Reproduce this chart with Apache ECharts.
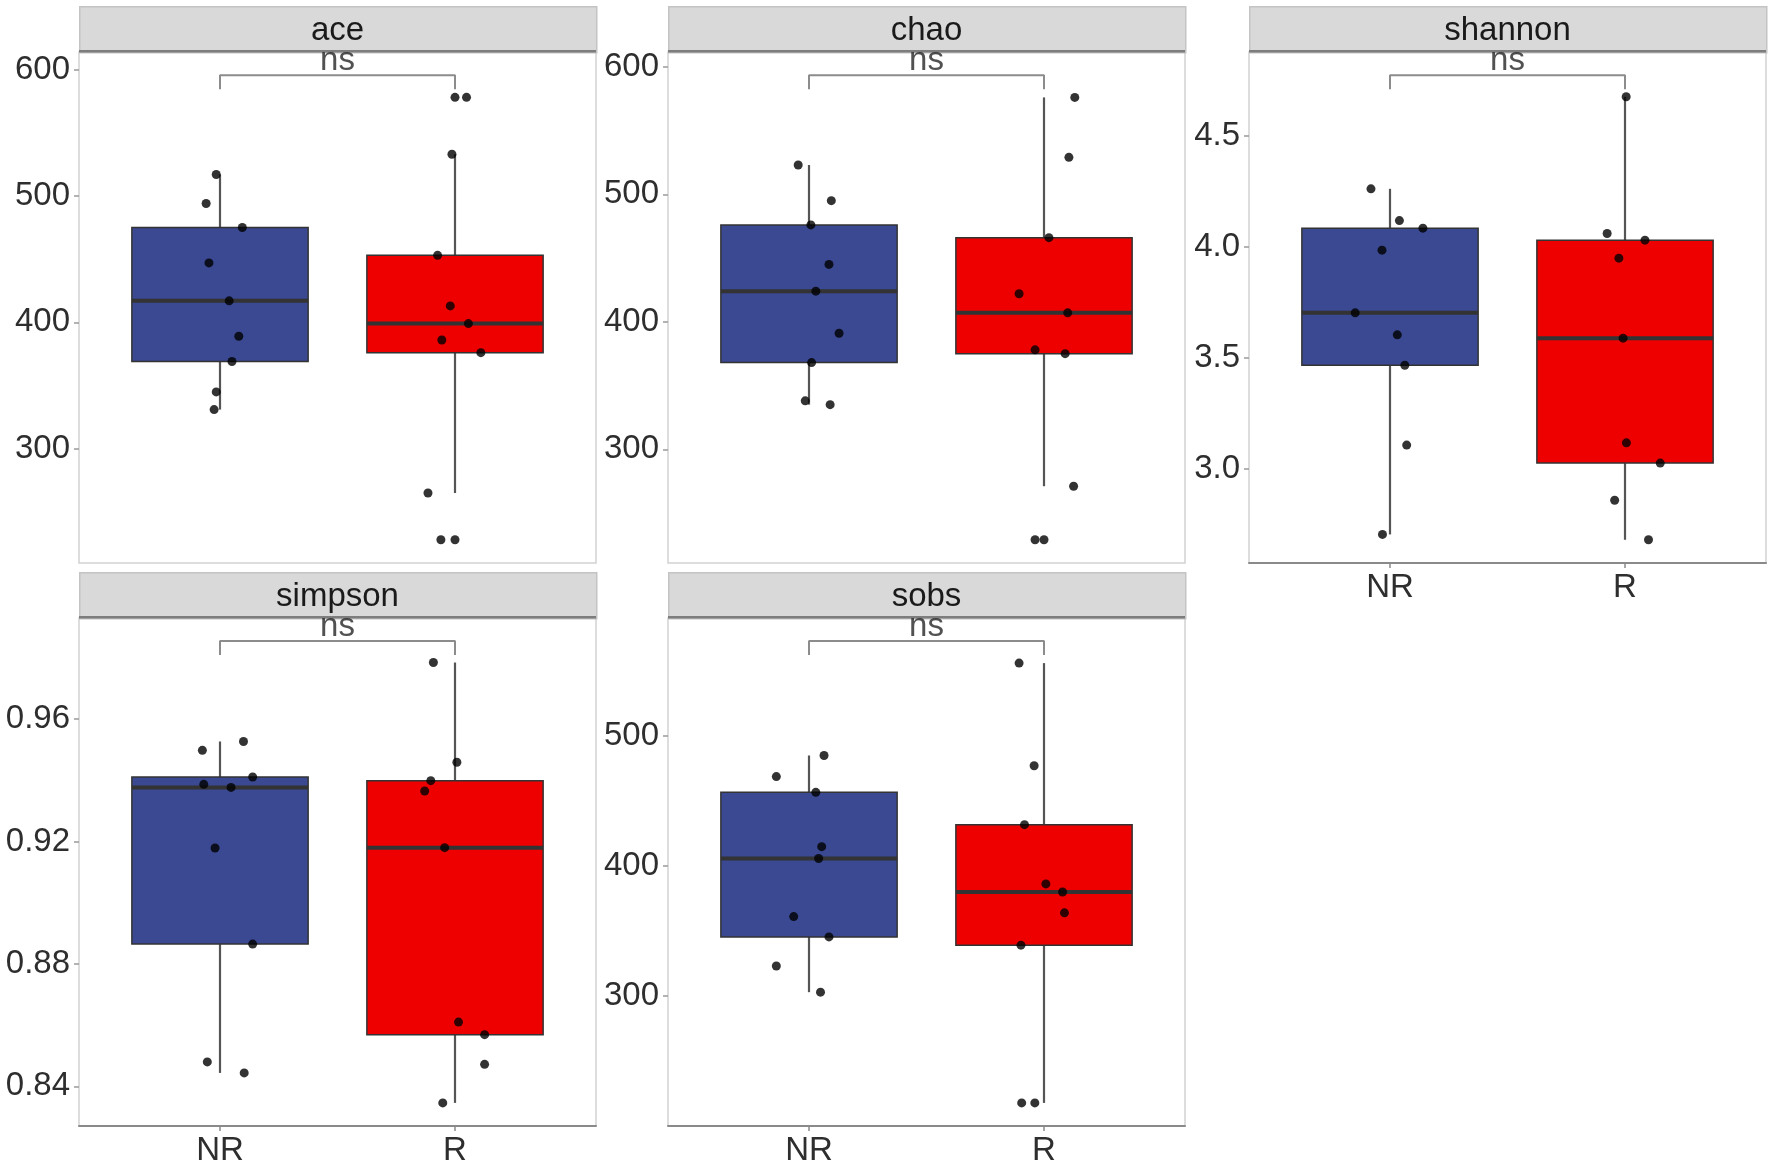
<!DOCTYPE html>
<html>
<head>
<meta charset="UTF-8">
<title>alpha diversity</title>
<script src="https://cdn.jsdelivr.net/npm/echarts@6/dist/echarts.min.js"></script>
<style>
  html, body { margin: 0; padding: 0; background: #fff; }
  #main { width: 1772px; height: 1167px; }
</style>
</head>
<body>
<div id="main"></div>
<script>
// groups and colours
var groups = ['NR', 'R'];
var groupColors = ['#3B4992', '#EE0000'];
var panelNames = ['ace', 'chao', 'shannon', 'simpson', 'sobs'];

// values, with the horizontal jitter of each dot
var aceNR = [517, 494, 475, 447, 417, 389, 369, 345, 331];
var aceNRJitter = [-0.016, -0.059, 0.095, -0.047, 0.039, 0.080, 0.051, -0.016, -0.025];
var aceR = [578, 533, 453, 413, 399, 386, 376, 265, 228];
var aceRJitter = [0.049, -0.013, -0.074, -0.020, 0.057, -0.056, 0.110, -0.115, -0.060];

var chaoNR = [523, 495, 476, 445, 424, 391, 368, 338, 335];
var chaoNRJitter = [-0.046, 0.095, 0.008, 0.085, 0.029, 0.128, 0.011, -0.016, 0.090];
var chaoR = [576, 529, 466, 422, 407, 378, 375, 271, 229];
var chaoRJitter = [0.131, 0.106, 0.021, -0.106, 0.101, -0.038, 0.090, 0.126, -0.038];

var shannonNR = [4.260, 4.117, 4.083, 3.984, 3.702, 3.603, 3.466, 3.107, 2.705];
var shannonNRJitter = [-0.081, 0.040, 0.140, -0.034, -0.148, 0.031, 0.063, 0.071, -0.032];
var shannonR = [4.674, 4.059, 4.029, 3.948, 3.588, 3.117, 3.026, 2.859, 2.681];
var shannonRJitter = [0.005, -0.076, 0.085, -0.026, -0.008, 0.006, 0.150, -0.044, 0.100];

var simpsonNR = [0.9498, 0.9527, 0.9387, 0.9377, 0.9411, 0.9179, 0.8865, 0.8480, 0.8444];
var simpsonNRJitter = [-0.075, 0.100, -0.069, 0.047, 0.139, -0.021, 0.139, -0.054, 0.103];
var simpsonR = [0.9785, 0.9459, 0.9399, 0.9365, 0.9180, 0.8610, 0.8569, 0.8472, 0.8346];
var simpsonRJitter = [-0.092, 0.008, -0.103, -0.129, -0.044, 0.015, 0.126, 0.126, -0.052];

var sobsNR = [468.4, 484.6, 456.3, 414.6, 405.5, 360.9, 345.3, 323.0, 302.9];
var sobsNRJitter = [-0.139, 0.064, 0.029, 0.054, 0.041, -0.065, 0.085, -0.139, 0.049];
var sobsR = [555.5, 476.7, 431.5, 386.0, 379.8, 363.8, 339.0, 217.9, 217.9];
var sobsRJitter = [-0.106, -0.042, -0.083, 0.008, 0.079, 0.087, -0.098, -0.095, -0.039];

// tick labels
var aceTicks = [300, 400, 500, 600];
var chaoTicks = [300, 400, 500, 600];
var shannonTicks = [3.0, 3.5, 4.0, 4.5];
var simpsonTicks = [0.84, 0.88, 0.92, 0.96];
var sobsTicks = [300, 400, 500];
var tickDigits = [0, 0, 1, 2, 0];

// significance bracket height and label
var bracketY = [595.5, 593.4, 4.771, 0.9855, 572.4];
var bracketText = ['ns', 'ns', 'ns', 'ns', 'ns'];

var panelData = [
  [[aceNR, aceNRJitter], [aceR, aceRJitter]],
  [[chaoNR, chaoNRJitter], [chaoR, chaoRJitter]],
  [[shannonNR, shannonNRJitter], [shannonR, shannonRJitter]],
  [[simpsonNR, simpsonNRJitter], [simpsonR, simpsonRJitter]],
  [[sobsNR, sobsNRJitter], [sobsR, sobsRJitter]]
];
var panelTicks = [aceTicks, chaoTicks, shannonTicks, simpsonTicks, sobsTicks];
var showXLabels = [false, false, true, true, true];

// layout of the facets
var colLeft = [79, 668, 1249];
var panelW = 517;
var rowTop = [52, 618];
var panelH = [511, 510];
var stripH = 46;
var font = 'Liberation Sans, Arial, Helvetica, sans-serif';

function quantile(sorted, p) {
  var h = (sorted.length - 1) * p;
  var lo = Math.floor(h);
  var hi = Math.min(lo + 1, sorted.length - 1);
  return sorted[lo] + (h - lo) * (sorted[hi] - sorted[lo]);
}

function boxStats(values) {
  var s = values.slice().sort(function (a, b) { return a - b; });
  var q1 = quantile(s, 0.25), med = quantile(s, 0.5), q3 = quantile(s, 0.75);
  var iqr = q3 - q1;
  var inside = s.filter(function (v) { return v >= q1 - 1.5 * iqr && v <= q3 + 1.5 * iqr; });
  var out = s.filter(function (v) { return v < q1 - 1.5 * iqr || v > q3 + 1.5 * iqr; });
  return { box: [inside[0], q1, med, q3, inside[inside.length - 1]], outliers: out };
}

function renderBox(params, api) {
  var x = api.value(0);
  var lo = api.coord([x, api.value(1)]);
  var q1 = api.coord([x, api.value(2)]);
  var med = api.coord([x, api.value(3)]);
  var q3 = api.coord([x, api.value(4)]);
  var hi = api.coord([x, api.value(5)]);
  var half = api.size([0.75, 0])[0] / 2;
  var whisker = { stroke: '#555555', lineWidth: 2.2 };
  return {
    type: 'group',
    children: [
      { type: 'line', shape: { x1: hi[0], y1: hi[1], x2: q3[0], y2: q3[1] }, style: whisker },
      { type: 'line', shape: { x1: lo[0], y1: lo[1], x2: q1[0], y2: q1[1] }, style: whisker },
      { type: 'rect', shape: { x: q3[0] - half, y: q3[1], width: half * 2, height: q1[1] - q3[1] },
        style: { fill: groupColors[params.dataIndex], stroke: '#333333', lineWidth: 1.5 } },
      { type: 'line', shape: { x1: med[0] - half, y1: med[1], x2: med[0] + half, y2: med[1] },
        style: { stroke: '#333333', lineWidth: 4 } }
    ]
  };
}

var grids = [], xAxes = [], yAxes = [], series = [], graphics = [];

panelNames.forEach(function (name, i) {
  var col = i % 3, row = Math.floor(i / 3);
  var left = colLeft[col], top = rowTop[row], h = panelH[row];
  var all = panelData[i][0][0].concat(panelData[i][1][0]);
  var dMin = Math.min.apply(null, all);
  var span = bracketY[i] - dMin;
  var yMin = dMin - 0.05 * span, yMax = bracketY[i] + 0.05 * span;
  var digits = tickDigits[i];

  grids.push({ left: left, top: top, width: panelW, height: h, show: true,
    borderColor: '#d2d2d2', borderWidth: 1.5, backgroundColor: '#ffffff' });

  xAxes.push({
    type: 'value', gridIndex: i, min: 0.4, max: 2.6,
    splitLine: { show: false },
    axisLine: { show: showXLabels[i], onZero: false, lineStyle: { color: '#8a8a8a', width: 2 } },
    axisTick: { show: showXLabels[i], customValues: [1, 2], length: 5, lineStyle: { color: '#8a8a8a', width: 1.5 } },
    axisLabel: { show: showXLabels[i], customValues: [1, 2], margin: 8,
      formatter: function (v) { return groups[Math.round(v) - 1]; },
      fontSize: 33, color: '#2e2e2e', fontFamily: font }
  });

  yAxes.push({
    type: 'value', gridIndex: i, min: yMin, max: yMax,
    splitLine: { show: false },
    axisLine: { show: false },
    axisTick: { show: true, customValues: panelTicks[i], length: 5, lineStyle: { color: '#9a9a9a', width: 1.5 } },
    axisLabel: { customValues: panelTicks[i], margin: 9,
      formatter: function (v) { return v.toFixed(digits); },
      fontSize: 33, color: '#2e2e2e', fontFamily: font }
  });

  var boxes = [], points = [], outliers = [];
  panelData[i].forEach(function (g, gi) {
    var st = boxStats(g[0]);
    boxes.push([gi + 1].concat(st.box));
    g[0].forEach(function (v, k) { points.push([gi + 1 + g[1][k], v]); });
    st.outliers.forEach(function (v) { outliers.push([gi + 1, v]); });
  });

  series.push({
    type: 'custom', xAxisIndex: i, yAxisIndex: i, renderItem: renderBox,
    encode: { x: 0, y: [1, 2, 3, 4, 5] }, data: boxes, z: 2, silent: true
  });
  series.push({
    type: 'scatter', xAxisIndex: i, yAxisIndex: i, data: outliers.concat(points),
    symbolSize: 9, itemStyle: { color: '#000000' }, z: 4, silent: true
  });

  var tip = 0.03 * span;
  series.push({
    type: 'line', xAxisIndex: i, yAxisIndex: i, symbol: 'none', silent: true, z: 3,
    lineStyle: { color: '#8c8c8c', width: 2 },
    data: [[1, bracketY[i] - tip], [1, bracketY[i]], [2, bracketY[i]], [2, bracketY[i] - tip]]
  });
  series.push({
    type: 'scatter', xAxisIndex: i, yAxisIndex: i, symbolSize: 0, silent: true, z: 6,
    data: [[1.5, bracketY[i]]],
    label: { show: true, position: 'top', distance: -2, formatter: bracketText[i],
      fontSize: 33, color: '#262626', fontFamily: font }
  });

  // facet strip
  graphics.push({
    type: 'rect', left: left, top: top - stripH, z: 0,
    shape: { width: panelW, height: stripH },
    style: { fill: '#d9d9d9', stroke: '#c4c4c4', lineWidth: 1.5 }
  });
  graphics.push({
    type: 'rect', left: left, top: top - 2, z: 1,
    shape: { width: panelW, height: 2.5 },
    style: { fill: '#7d7d7d' }
  });
  graphics.push({
    type: 'text', z: 2,
    x: left + panelW / 2, y: top - stripH / 2 + 2,
    style: { text: name, fontSize: 33, fill: '#1a1a1a', fontFamily: font,
      align: 'center', verticalAlign: 'middle' }
  });
});

var chart = echarts.init(document.getElementById('main'));
chart.setOption({
  animation: false,
  backgroundColor: '#ffffff',
  grid: grids,
  xAxis: xAxes,
  yAxis: yAxes,
  series: series,
  graphic: graphics
});
</script>
</body>
</html>
